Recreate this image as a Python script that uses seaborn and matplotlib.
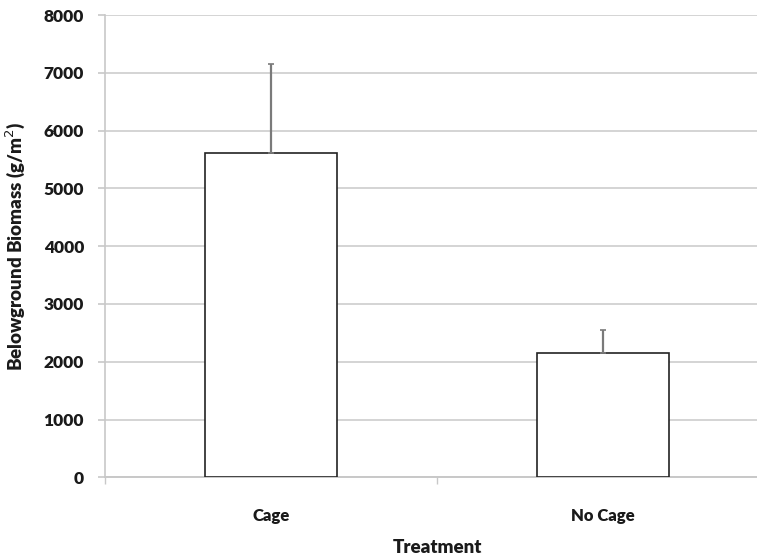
import matplotlib
matplotlib.use("Agg")
import matplotlib.pyplot as plt
import seaborn as sns
import pandas as pd

# Belowground biomass by treatment (mean and upper error)
treatments = ["Cage", "No Cage"]
biomass_mean = [5620, 2155]
biomass_err = [1540, 395]

sns.set_theme(style="white")
plt.rcParams["font.family"] = ["Lato", "DejaVu Sans"]

df = pd.DataFrame({"Treatment": treatments, "Biomass": biomass_mean})

fig = plt.figure(figsize=(7.57, 5.58), dpi=100)
ax = fig.add_axes([105 / 757, (558 - 477.3) / 558, 664 / 757, 462.3 / 558])

sns.barplot(data=df, x="Treatment", y="Biomass", color="white",
            edgecolor="#222222", linewidth=1.2, width=0.4, errorbar=None,
            ax=ax, zorder=3)

# one-sided (upper) error bars
ax.errorbar(range(len(treatments)), biomass_mean,
            yerr=[[0] * len(biomass_err), biomass_err],
            fmt="none", ecolor="#7a7a7a", elinewidth=1.6, capsize=2,
            capthick=1.2, zorder=4)

ax.set_ylim(0, 8000)
ax.set_xlim(-0.5, 1.5)
ax.set_yticks(range(0, 8001, 1000))
ax.yaxis.grid(True, color="#d4d4d4", linewidth=1.4, zorder=0)
ax.set_axisbelow(True)

for s in ["top", "right"]:
    ax.spines[s].set_visible(False)
ax.spines["left"].set_color("#c8c8c8")
ax.spines["left"].set_linewidth(1.2)
ax.spines["bottom"].set_color("#c8c8c8")
ax.spines["bottom"].set_linewidth(1.4)

ax.tick_params(axis="y", left=True, length=5, width=1.2, color="#c8c8c8",
               pad=10, labelsize=12.5)
ax.tick_params(axis="x", bottom=False, pad=16, labelsize=12)
for lbl in ax.get_yticklabels() + ax.get_xticklabels():
    lbl.set_fontweight("heavy")
    lbl.set_color("#1a1a1a")

# category boundary ticks
ax.set_xticks([-0.5, 0.5, 1.5], minor=True)
ax.tick_params(axis="x", which="minor", bottom=True, length=5, width=1.0,
               color="#c8c8c8")

ax.set_xlabel("Treatment", fontsize=13.5, fontweight="heavy", color="#1a1a1a",
              labelpad=11)
ax.set_ylabel("Belowground Biomass (g/m$^2$)", fontsize=13.5,
              fontweight="heavy", color="#1a1a1a", labelpad=12)

fig.savefig("out.png", dpi=100)
